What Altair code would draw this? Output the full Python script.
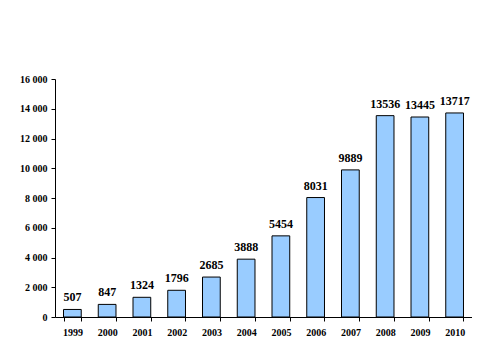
import altair as alt
import pandas as pd

years = ["1999", "2000", "2001", "2002", "2003", "2004", "2005", "2006", "2007", "2008", "2009", "2010"]
values = [507, 847, 1324, 1796, 2685, 3888, 5454, 8031, 9889, 13536, 13445, 13717]

df = pd.DataFrame({"year": years, "value": values})

font = "Liberation Serif"

base = alt.Chart(df).encode(
    x=alt.X("year:N", sort=years, title=None,
            scale=alt.Scale(paddingInner=0.49, paddingOuter=0.245),
            axis=alt.Axis(labelAngle=0, tickBand="extent", domainColor="black", tickColor="black",
                          tickSize=4, labelFont=font, labelFontWeight="bold", labelFontSize=10,
                          labelColor="black", labelPadding=6, grid=False)),
    y=alt.Y("value:Q", title=None,
            scale=alt.Scale(domain=[0, 16000], nice=False),
            axis=alt.Axis(values=list(range(0, 16001, 2000)),
                          labelExpr="replace(format(datum.value, ','), ',', ' ')",
                          domainColor="black", tickColor="black", tickSize=4,
                          labelFont=font, labelFontWeight="bold", labelFontSize=10,
                          labelColor="black", labelPadding=4, grid=False)),
)

bars = base.mark_bar(color="#99CCFF", stroke="black", strokeWidth=1)
labels = base.mark_text(baseline="bottom", dy=-5, font=font, fontWeight="bold", fontSize=12,
                        color="black").encode(text="value:Q")

chart = (bars + labels).properties(
    width=417, height=238,
    autosize=alt.AutoSizeParams(type="none"),
    padding={"left": 47, "top": 71, "right": 0, "bottom": 30},
).configure_view(stroke=None)

chart.save("out.html", embed_options={"renderer": "svg", "actions": False})
